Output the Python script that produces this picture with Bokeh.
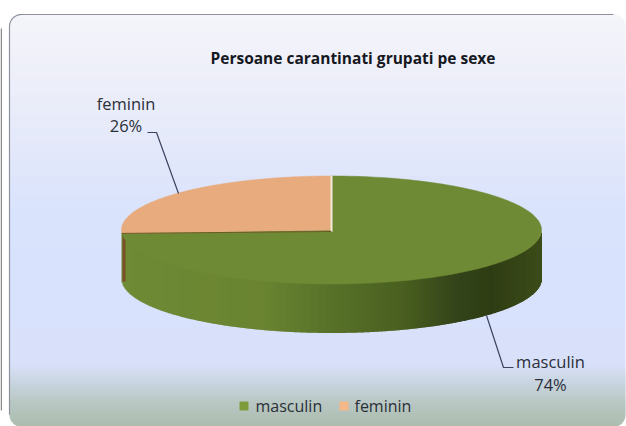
import numpy as np
from bokeh.plotting import figure
from bokeh.models import Range1d
from bokeh.core.properties import value
from bokeh.embed import file_html
from bokeh.resources import INLINE

title = "Persoane carantinati  grupati pe sexe"
categories = ["masculin", "feminin"]
values = [74, 26]
percent_labels = ["74%", "26%"]
top_colors = ["#6f8a35", "#e8ab7e"]
legend_colors = ["#7f9c3c", "#f5b888"]

FONT = "Open Sans"
W, H = 626, 426

p = figure(width=W, height=H, x_range=Range1d(0, W), y_range=Range1d(H, 0),
           output_backend="svg", toolbar_location=None, min_border=0,
           background_fill_color="white", border_fill_color="white", outline_line_color=None)
p.axis.visible = False
p.grid.visible = False


def hex2rgb(c):
    return np.array([int(c[i:i + 2], 16) for i in (1, 3, 5)], float)


def ramp(pos, stops):
    xs = [s[0] for s in stops]
    rgb = np.array([hex2rgb(s[1]) for s in stops])
    return ["#%02x%02x%02x" % tuple(int(round(np.interp(t, xs, rgb[:, k]))) for k in range(3)) for t in pos]


# sliver of the neighbouring frame at the left edge
p.quad(left=[0], right=[1.5], top=[28], bottom=[410], fill_color="#8a8a8a", fill_alpha=1.0, line_color=None)

# card background
L, R, T, B, r = 9, 625, 14, 426, 12
bg_stops = [(14, "#f3f3f9"), (90, "#e9ebf8"), (150, "#dfe5f9"), (210, "#d4dffc"),
            (362, "#d3ddfa"), (380, "#c3d0de"), (400, "#b0c0bd"), (426, "#9fb3a0")]
rows = np.arange(T, B)
d = np.minimum(rows + 0.5 - T, B - rows - 0.5)
inset = np.where(d < r, r - np.sqrt(np.maximum(r ** 2 - (r - d) ** 2, 0)), 0)
p.quad(left=L + inset, right=R - inset, top=rows, bottom=rows + 1.3,
       fill_color=ramp(rows, bg_stops), fill_alpha=1.0, line_color=None)
arc = np.linspace(np.pi, 1.5 * np.pi, 20)
top_x = np.concatenate([[L], L + r + r * np.cos(arc), [R - r]])
top_y = np.concatenate([[B - r], T + r + r * np.sin(arc), [T]])
p.line(top_x, top_y, line_color="#8d929e", line_width=1.2)

# pie geometry
cx, cy, rx, ry, depth = 331, 229.5, 210, 54, 49
fractions = np.array(values, float) / sum(values)
bounds = np.concatenate([[0], np.cumsum(fractions)]) * 2 * np.pi


def px(th):
    return cx + rx * np.sin(th)


def py(th):
    return cy - ry * np.cos(th)


# outer wall of the pie, front half
wall_stops = [(121, "#6f8a35"), (260, "#6a8432"), (330, "#58722a"), (400, "#4a6020"),
              (455, "#34441a"), (490, "#2f3d14"), (541, "#3c4c18")]
xs = np.arange(cx - rx, cx + rx)
mid = (xs + 0.5 - cx) / rx
tops = cy + ry * np.sqrt(1 - mid ** 2)
p.quad(left=xs, right=xs + 1.5, top=tops - 1, bottom=tops + depth,
       fill_color=ramp(xs, wall_stops), fill_alpha=1.0, line_color=None)
p.quad(left=[cx - rx + 1], right=[cx - rx + 4], top=[py(bounds[1])], bottom=[py(bounds[1]) + depth - 1],
       fill_color="#7a4f2a", fill_alpha=1.0, line_color=None)

# top faces
for i in range(len(values)):
    th = np.linspace(bounds[i], bounds[i + 1], 160)
    p.patch(np.concatenate([[cx], px(th)]), np.concatenate([[cy], py(th)]),
            fill_color=top_colors[i], line_color=top_colors[i], line_width=0.5)
# light seam between the slices, dark line under the cut
p.line([cx, cx], [py(0), cy + 2], line_color="#f3ead9", line_width=2)
p.line([px(bounds[1]), cx], [py(bounds[1]), cy + 1.5], line_color="#6e5a25", line_width=1)

# leaders
leader = "#3b4260"
p.line([486, 503, 513], [315, 367, 367], line_color=leader, line_width=1.2)
p.line([147, 156, 178], [132, 132, 193], line_color=leader, line_width=1.2)

# texts
txt = "#2a2f38"
p.text([354.5], [57], text=[title], text_font=value(FONT), text_font_style="bold", text_font_size="15.5px",
       text_align="center", text_baseline="alphabetic", text_color="#15181f")
label_pos = [(125.5, 103, 125), (550, 361, 384)]
label_idx = [1, 0]
for k, (x, y1, y2) in zip(label_idx, label_pos):
    p.text([x], [y1], text=[categories[k]], text_font=value(FONT), text_font_size="16.5px",
           text_align="center", text_baseline="alphabetic", text_color=txt)
    p.text([x], [y2], text=[percent_labels[k]], text_font=value(FONT), text_font_size="16.5px",
           text_align="center", text_baseline="alphabetic", text_color=txt)

# legend
legend_pos = [(239, 255), (339, 354)]
for i, (sx, tx) in enumerate(legend_pos):
    p.quad(left=[sx], right=[sx + 9], top=[401], bottom=[410], fill_color=legend_colors[i], fill_alpha=1.0, line_color=None)
    p.text([tx], [405], text=[categories[i]], text_font=value(FONT), text_font_size="16px",
           text_align="left", text_baseline="alphabetic", text_color=txt)

open("out.html", "w").write(file_html(p, INLINE))
